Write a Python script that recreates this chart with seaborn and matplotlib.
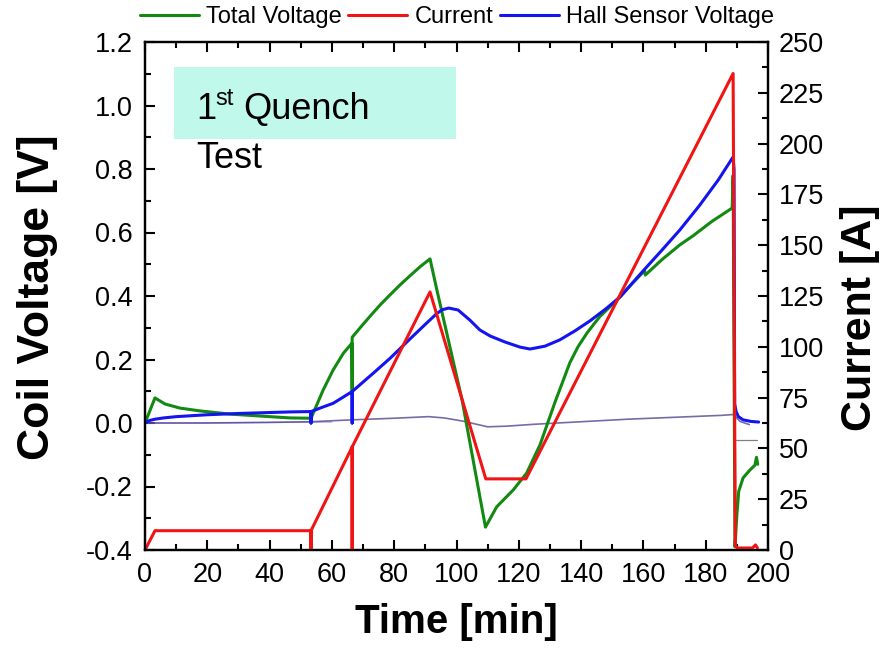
import matplotlib
matplotlib.use("Agg")
import matplotlib.pyplot as plt
import pandas as pd
import seaborn as sns
from matplotlib.ticker import MultipleLocator
from matplotlib.patches import Rectangle

# ---- measured series -------------------------------------------------------
# Total coil voltage [V]
t_total = [0, 3.2, 6.4, 11.2, 17.7, 27.3, 36.9, 46.5, 53.3, 57.2, 60.4, 63.7,
           66.4, 66.5, 66.5, 69.5, 72.5, 75.5, 78.7, 82.0, 85.1, 88.3, 91.5,
           93.7, 101.8, 109.3, 112.9, 118.2, 122.5, 126.8, 131.6, 136.4, 139.0,
           142.0, 146.0, 152.5, 156.0, 160.4, 160.6, 166.0, 171.7, 176.0, 182.0,
           188.5, 188.8, 189.4, 190.0, 190.6, 192.0, 194.2, 195.8, 196.3, 196.7]
v_total = [0.0, 0.079, 0.060, 0.047, 0.038, 0.028, 0.022, 0.016, 0.015, 0.104,
           0.167, 0.220, 0.251, 0.094, 0.270, 0.305, 0.339, 0.372, 0.404, 0.436,
           0.464, 0.492, 0.517, 0.419, 0.072, -0.328, -0.264, -0.211, -0.158,
           -0.069, 0.065, 0.190, 0.240, 0.285, 0.335, 0.397, 0.435, 0.480,
           0.466, 0.515, 0.561, 0.590, 0.635, 0.677, 0.780, -0.390, -0.290,
           -0.215, -0.173, -0.148, -0.133, -0.108, -0.130]

# Coil current [A]
t_current = [0, 3.2, 53.3, 53.3, 53.3, 66.5, 66.5, 66.5, 91.5, 109.4, 122.3,
             188.8, 189.5, 190.2, 195.0, 196.0, 196.6]
i_current = [0, 9.5, 9.5, 0, 9.5, 50.7, 0, 50.7, 127, 35, 35,
             234.5, 2.0, 1.0, 1.0, 2.5, 1.0]

# Hall sensor voltage [V]
t_hall = [0, 1.5, 3.2, 6, 10, 20, 30, 40, 47, 53.3, 53.3, 53.3, 56.2, 60.4,
          66.5, 66.5, 66.5, 73.3, 78.7, 85.1, 89.9, 93.7, 95.5, 97.5, 100.5,
          104.3, 107.5, 110.8, 115.6, 120.4, 123.6, 128.4, 133.2, 138.0, 142.9,
          148.0, 152.5, 160.0, 166.0, 171.7, 178.0, 184.0, 188.8, 189.1, 189.3,
          189.8, 190.5, 192.0, 194.5, 197.0]
v_hall = [0, 0.008, 0.012, 0.016, 0.020, 0.026, 0.030, 0.033, 0.035, 0.036,
          0.0, 0.036, 0.047, 0.062, 0.099, 0.0, 0.099, 0.157, 0.204, 0.265,
          0.310, 0.345, 0.357, 0.362, 0.356, 0.324, 0.293, 0.274, 0.255, 0.239,
          0.233, 0.242, 0.262, 0.290, 0.322, 0.360, 0.397, 0.480, 0.545, 0.608,
          0.685, 0.765, 0.838, 0.800, 0.060, 0.035, 0.020, 0.010, 0.005, 0.003]

# Auxiliary channels near zero
t_drift = [0, 20, 40, 53.3, 66.5, 80, 91, 96, 102, 110, 116, 125, 140, 155,
           170, 185, 189.3, 189.6, 191, 194]
v_drift = [0.0, 0.0, 0.002, 0.004, 0.010, 0.015, 0.020, 0.016, 0.006, -0.012,
           -0.010, -0.004, 0.004, 0.012, 0.018, 0.024, 0.027, 0.020, 0.005, -0.005]
t_offset = [0, 15, 30, 45, 60]
v_offset = [0.0, 0.0, 0.001, 0.002, 0.003]
t_ref = [189.6, 196.6]
v_ref = [-0.053, -0.053]

legend_labels = ["Total Voltage", "Current", "Hall Sensor Voltage"]
x_ticks = list(range(0, 201, 20))
v_ticks = [-0.4, -0.2, 0.0, 0.2, 0.4, 0.6, 0.8, 1.0, 1.2]
i_ticks = list(range(0, 251, 25))

# ---- styling ---------------------------------------------------------------
sns.set_theme(style="ticks")
plt.rcParams["font.family"] = ["Liberation Sans", "DejaVu Sans"]
plt.rcParams["axes.unicode_minus"] = False
for key in ("text.color", "axes.labelcolor", "xtick.color", "ytick.color",
            "axes.edgecolor"):
    plt.rcParams[key] = "black"

GREEN = "#128a12"
RED = "#f01414"
BLUE = "#1414f0"

W, H = 881, 656
fig = plt.figure(figsize=(W / 100, H / 100), dpi=100)
ax = fig.add_axes([145 / W, 1 - 550 / H, 623 / W, 508 / H])
ax2 = ax.twinx()

def draw(axis, t, y, **kw):
    df = pd.DataFrame({"t": t, "y": y})
    sns.lineplot(data=df, x="t", y="y", ax=axis, sort=False, estimator=None,
                 legend=False, **kw)
    return axis.lines[-1]

draw(ax, t_offset, v_offset, color="#9a9af0", lw=1.0, alpha=0.8)
draw(ax, t_drift, v_drift, color="#4a3a8a", lw=1.2, alpha=0.75)
draw(ax, t_ref, v_ref, color="#808080", lw=0.9)
h_total = draw(ax, t_total, v_total, color=GREEN, lw=2.2)
h_hall = draw(ax, t_hall, v_hall, color=BLUE, lw=2.2)
h_curr = draw(ax2, t_current, i_current, color=RED, lw=2.2)

# ---- axes ------------------------------------------------------------------
ax.set_xlim(0, 200)
ax.set_ylim(-0.4, 1.2)
ax2.set_ylim(0, 250)
ax.set_xticks(x_ticks)
ax.set_yticks(v_ticks)
ax2.set_yticks(i_ticks)
ax.xaxis.set_minor_locator(MultipleLocator(10))
ax.yaxis.set_minor_locator(MultipleLocator(0.1))
ax2.yaxis.set_minor_locator(MultipleLocator(12.5))

for a in (ax, ax2):
    for sp in a.spines.values():
        sp.set_linewidth(1.6)
        sp.set_color("black")
        sp.set_visible(True)

ax.tick_params(axis="both", which="both", direction="in", top=True,
               right=False, width=1.5, color="black", labelcolor="black",
               labelsize=19.5)
ax.tick_params(axis="both", which="major", length=7)
ax.tick_params(axis="both", which="minor", length=4)
ax.tick_params(axis="y", pad=9)
ax.tick_params(axis="x", pad=9)
ax2.tick_params(axis="y", which="both", direction="in", width=1.5,
                color="black", labelcolor="black", labelsize=19.5, pad=8)
ax2.tick_params(axis="y", which="major", length=7)
ax2.tick_params(axis="y", which="minor", length=4)

ax.set_xlabel("Time [min]", fontsize=29, fontweight="bold")
ax.set_ylabel("Coil Voltage [V]", fontsize=32, fontweight="bold")
ax2.set_ylabel("Current [A]", fontsize=31, fontweight="bold")
ax.xaxis.set_label_coords(0.499, -0.105)
ax.yaxis.set_label_coords(-0.14, 0.498)
ax2.yaxis.set_label_coords(1.116, 0.457)

# ---- legend above the plot -------------------------------------------------
fig.legend([h_total, h_curr, h_hall], legend_labels, loc="center",
           bbox_to_anchor=(457 / W, 1 - 17 / H), ncol=3, frameon=False,
           fontsize=17, handlelength=2.5, handletextpad=0.3,
           columnspacing=0.3, borderaxespad=0)

# ---- annotation box --------------------------------------------------------
fig.patches.append(Rectangle((174 / W, 1 - 139 / H), (456 - 174) / W,
                             (139 - 67) / H, transform=fig.transFigure,
                             facecolor="#c0f9ec", edgecolor="none", zorder=0))
fig.text(196 / W, 1 - 119 / H, "1", fontsize=26, va="baseline", ha="left")
fig.text(215 / W, 1 - 105 / H, "st", fontsize=17, va="baseline", ha="left")
fig.text(243 / W, 1 - 119 / H, "Quench", fontsize=26, va="baseline", ha="left")
fig.text(196 / W, 1 - 168 / H, "Test", fontsize=26, va="baseline", ha="left")

fig.savefig("out.png", dpi=100)
